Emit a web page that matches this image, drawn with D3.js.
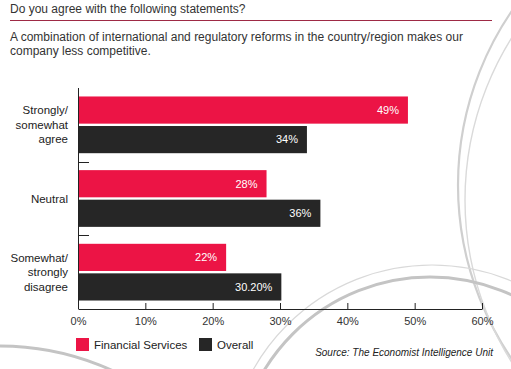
<!DOCTYPE html>
<html>
<head>
<meta charset="utf-8">
<script src="https://cdn.jsdelivr.net/npm/d3@7"></script>
<style>
  body { margin: 0; background: #fff; }
  svg { display: block; font-family: "Liberation Sans", Arial, sans-serif; }
</style>
</head>
<body>
<div id="chart"></div>
<script>
// chart data
var categories = [["Strongly/", "somewhat", "agree"], ["Neutral"], ["Somewhat/", "strongly", "disagree"]];
var seriesNames = ["Financial Services", "Overall"];
var financial = [49, 28, 22];
var overall = [34, 36, 30.2];
var valueLabels = [["49%", "34%"], ["28%", "36%"], ["22%", "30.20%"]];
var xTicks = [0, 10, 20, 30, 40, 50, 60];
var colors = ["#ec1445", "#262626"];

var width = 511, height = 369;
var svg = d3.select("#chart").append("svg")
    .attr("width", width)
    .attr("height", height);

// background decoration (grey rings)
var deco = svg.append("g").attr("fill", "none");
deco.append("circle").attr("cx", 766).attr("cy", 185).attr("r", 308)
    .attr("stroke", "#cfcfcf").attr("stroke-width", 2.2);
deco.append("circle").attr("cx", 770).attr("cy", 200).attr("r", 305)
    .attr("stroke", "#dadada").attr("stroke-width", 1.4);
deco.append("circle").attr("cx", 430).attr("cy", 471).attr("r", 194)
    .attr("stroke", "#c4c4c4").attr("stroke-width", 3);
deco.append("circle").attr("cx", 432).attr("cy", 470).attr("r", 205)
    .attr("stroke", "#d9d9d9").attr("stroke-width", 1.2);
deco.append("circle").attr("cx", 0).attr("cy", 615).attr("r", 269)
    .attr("stroke", "#c4c4c4").attr("stroke-width", 3);

// header
svg.append("text").attr("x", 10).attr("y", 13)
    .attr("font-size", 12).attr("fill", "#333")
    .text("Do you agree with the following statements?");
svg.append("line").attr("x1", 10).attr("x2", 492).attr("y1", 20.5).attr("y2", 20.5)
    .attr("stroke", "#9e2a45").attr("stroke-width", 1);
var sub = svg.append("text").attr("x", 10).attr("y", 41)
    .attr("font-size", 12).attr("fill", "#333");
sub.append("tspan").attr("x", 10).text("A combination of international and regulatory reforms in the country/region makes our");
sub.append("tspan").attr("x", 10).attr("dy", 14).text("company less competitive.");

// scales
var x = d3.scaleLinear().domain([0, 60]).range([78, 482]);
var y0 = d3.scaleBand().domain(d3.range(categories.length)).range([88, 309])
    .paddingInner(0.23).paddingOuter(0.115);
var y1 = d3.scaleBand().domain(d3.range(seriesNames.length)).range([0, y0.bandwidth()])
    .paddingInner(0.08);

var rows = categories.map(function(c, i) {
    return [financial[i], overall[i]];
});

var groups = svg.selectAll("g.grp").data(rows).enter().append("g")
    .attr("class", "grp")
    .attr("transform", function(d, i) { return "translate(0," + y0(i) + ")"; });

groups.selectAll("rect").data(function(d) { return d; }).enter().append("rect")
    .attr("x", x(0))
    .attr("y", function(d, j) { return y1(j); })
    .attr("width", function(d) { return x(d) - x(0); })
    .attr("height", y1.bandwidth())
    .attr("fill", function(d, j) { return colors[j]; });

groups.selectAll("text.val").data(function(d, i) {
        return d.map(function(v, j) { return { v: v, j: j, label: valueLabels[i][j] }; });
    }).enter().append("text")
    .attr("class", "val")
    .attr("x", function(d) { return x(d.v) - 9; })
    .attr("y", function(d) { return y1(d.j) + y1.bandwidth() / 2; })
    .attr("dy", "0.35em")
    .attr("text-anchor", "end")
    .attr("font-size", 11)
    .attr("fill", "#fff")
    .text(function(d) { return d.label; });

// category labels
categories.forEach(function(lines, i) {
    var cy = y0(i) + y0.bandwidth() / 2;
    var t = svg.append("text").attr("text-anchor", "end")
        .attr("font-size", 11.5).attr("fill", "#222");
    lines.forEach(function(s, k) {
        t.append("tspan").attr("x", 68)
            .attr("y", cy + (k - (lines.length - 1) / 2) * 14.5)
            .attr("dy", "0.35em")
            .text(s);
    });
});

// y axis line and separators
svg.append("line").attr("x1", 78.5).attr("x2", 78.5).attr("y1", 88).attr("y2", 309)
    .attr("stroke", "#222").attr("stroke-width", 1);
for (var i = 1; i < categories.length; i++) {
    var sy = Math.round(y0(i) - y0.step() * y0.paddingInner() / 2) + 0.5;
    svg.append("line").attr("x1", 78).attr("x2", 89).attr("y1", sy).attr("y2", sy)
        .attr("stroke", "#222");
}

// x axis
var xAxis = svg.append("g").attr("transform", "translate(0,309)")
    .call(d3.axisBottom(x).tickValues(xTicks).tickFormat(function(d) { return d + "%"; })
        .tickSizeInner(-6).tickSizeOuter(0).tickPadding(6));
xAxis.select(".domain").attr("stroke", "#222");
xAxis.selectAll(".tick line").attr("stroke", "#222");
xAxis.selectAll(".tick text").attr("font-size", 11).attr("fill", "#333")
    .attr("font-family", "Liberation Sans, Arial, sans-serif").attr("dy", "0.9em");

// legend
var legend = svg.selectAll("g.leg").data(seriesNames).enter().append("g")
    .attr("class", "leg")
    .attr("transform", function(d, i) { return "translate(" + [76, 199][i] + ",338)"; });
legend.append("rect").attr("width", 13).attr("height", 13)
    .attr("fill", function(d, i) { return colors[i]; });
legend.append("text").attr("x", 18).attr("y", 6.5).attr("dy", "0.35em")
    .attr("font-size", 11.5).attr("fill", "#222")
    .text(function(d) { return d; });

// source
svg.append("text").attr("x", 493).attr("y", 356)
    .attr("text-anchor", "end").attr("font-size", 10).attr("font-style", "italic")
    .attr("fill", "#222")
    .text("Source: The Economist Intelligence Unit");
</script>
</body>
</html>
